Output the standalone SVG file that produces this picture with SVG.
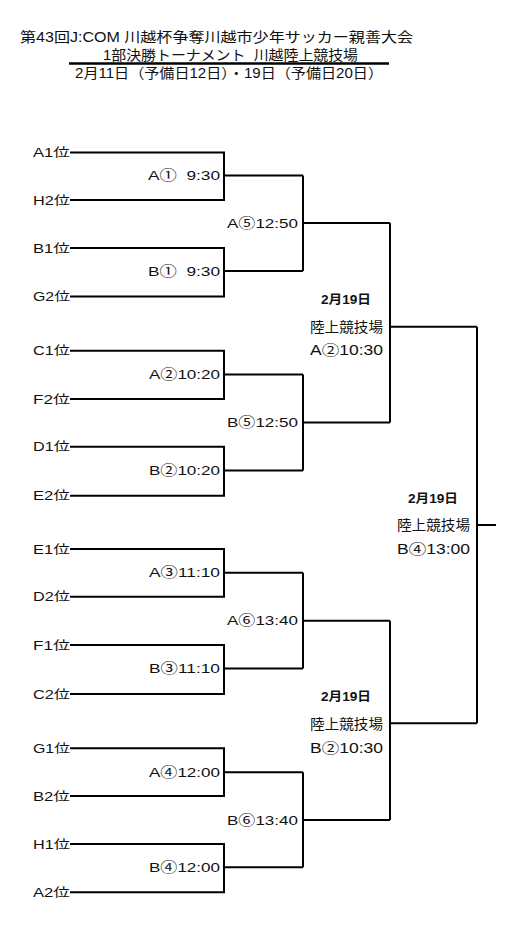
<svg xmlns="http://www.w3.org/2000/svg" width="518" height="927" viewBox="0 0 518 927">
<style>
text{font-family:"Liberation Sans","Noto Sans CJK JP",sans-serif;fill:#111;white-space:pre}
.h{font-size:14px}
.t{font-size:12.5px;text-anchor:end}
.m{font-size:13.5px;text-anchor:end}
.d{font-size:12px;font-weight:bold;text-anchor:middle}
.v{font-size:14px;text-anchor:middle}
.ln{fill:none;stroke:#000;stroke-width:2}
</style>
<rect width="518" height="927" fill="#fff"/>
<g id="title">
<text class="h" x="20" y="42" textLength="393" lengthAdjust="spacingAndGlyphs">第43回J:COM 川越杯争奪川越市少年サッカー親善大会</text>
<text class="h" x="103" y="60" textLength="255" lengthAdjust="spacingAndGlyphs" xml:space="preserve">1部決勝トーナメント  川越陸上競技場</text>
<line x1="69" y1="63.5" x2="389" y2="63.5" stroke="#000" stroke-width="2.5"/>
<text class="h" x="75" y="78" textLength="308" lengthAdjust="spacingAndGlyphs">2月11日（予備日12日）・19日（予備日20日）</text>
</g>
<g id="teams">
<text class="t" x="70" y="157" textLength="37" lengthAdjust="spacingAndGlyphs">A1位</text>
<text class="t" x="70" y="205" textLength="37" lengthAdjust="spacingAndGlyphs">H2位</text>
<text class="t" x="70" y="253" textLength="37" lengthAdjust="spacingAndGlyphs">B1位</text>
<text class="t" x="70" y="301" textLength="37" lengthAdjust="spacingAndGlyphs">G2位</text>
<text class="t" x="70" y="355" textLength="37" lengthAdjust="spacingAndGlyphs">C1位</text>
<text class="t" x="70" y="404" textLength="37" lengthAdjust="spacingAndGlyphs">F2位</text>
<text class="t" x="70" y="451" textLength="37" lengthAdjust="spacingAndGlyphs">D1位</text>
<text class="t" x="70" y="500" textLength="37" lengthAdjust="spacingAndGlyphs">E2位</text>
<text class="t" x="70" y="554" textLength="37" lengthAdjust="spacingAndGlyphs">E1位</text>
<text class="t" x="70" y="601" textLength="37" lengthAdjust="spacingAndGlyphs">D2位</text>
<text class="t" x="70" y="650" textLength="37" lengthAdjust="spacingAndGlyphs">F1位</text>
<text class="t" x="70" y="699" textLength="37" lengthAdjust="spacingAndGlyphs">C2位</text>
<text class="t" x="70" y="753" textLength="37" lengthAdjust="spacingAndGlyphs">G1位</text>
<text class="t" x="70" y="801" textLength="37" lengthAdjust="spacingAndGlyphs">B2位</text>
<text class="t" x="70" y="849" textLength="37" lengthAdjust="spacingAndGlyphs">H1位</text>
<text class="t" x="70" y="897" textLength="37" lengthAdjust="spacingAndGlyphs">A2位</text>
</g>
<g id="matches">
<text class="m" x="220" y="180" textLength="72" lengthAdjust="spacingAndGlyphs" xml:space="preserve">A①  9:30</text>
<text class="m" x="220" y="276" textLength="72" lengthAdjust="spacingAndGlyphs" xml:space="preserve">B①  9:30</text>
<text class="m" x="220" y="379" textLength="71" lengthAdjust="spacingAndGlyphs">A②10:20</text>
<text class="m" x="220" y="475" textLength="71" lengthAdjust="spacingAndGlyphs">B②10:20</text>
<text class="m" x="220" y="577" textLength="71" lengthAdjust="spacingAndGlyphs">A③11:10</text>
<text class="m" x="220" y="673" textLength="71" lengthAdjust="spacingAndGlyphs">B③11:10</text>
<text class="m" x="220" y="777" textLength="71" lengthAdjust="spacingAndGlyphs">A④12:00</text>
<text class="m" x="220" y="872" textLength="71" lengthAdjust="spacingAndGlyphs">B④12:00</text>
<text class="m" x="298" y="228" textLength="71" lengthAdjust="spacingAndGlyphs">A⑤12:50</text>
<text class="m" x="298" y="427" textLength="71" lengthAdjust="spacingAndGlyphs">B⑤12:50</text>
<text class="m" x="298" y="625" textLength="71" lengthAdjust="spacingAndGlyphs">A⑥13:40</text>
<text class="m" x="298" y="825" textLength="71" lengthAdjust="spacingAndGlyphs">B⑥13:40</text>
</g>
<g id="semi-a">
<text class="d" x="346" y="304" textLength="50" lengthAdjust="spacingAndGlyphs">2月19日</text>
<text class="v" x="346.5" y="332" textLength="73" lengthAdjust="spacingAndGlyphs">陸上競技場</text>
<text class="v" x="346.5" y="355" textLength="73" lengthAdjust="spacingAndGlyphs">A②10:30</text>
</g>
<g id="semi-b">
<text class="d" x="346" y="701" textLength="50" lengthAdjust="spacingAndGlyphs">2月19日</text>
<text class="v" x="346.5" y="729" textLength="73" lengthAdjust="spacingAndGlyphs">陸上競技場</text>
<text class="v" x="346.5" y="753" textLength="73" lengthAdjust="spacingAndGlyphs">B②10:30</text>
</g>
<g id="final">
<text class="d" x="433" y="503" textLength="50" lengthAdjust="spacingAndGlyphs">2月19日</text>
<text class="v" x="433.5" y="530" textLength="73" lengthAdjust="spacingAndGlyphs">陸上競技場</text>
<text class="v" x="433.5" y="554" textLength="73" lengthAdjust="spacingAndGlyphs">B④13:00</text>
</g>
<g id="connectors">
<path class="ln" d="M70 152.5H224V200H70M224 175.5H303M70 248H224V296.5H70M224 271H303M303 175.5V271M303 223H390"/>
<path class="ln" d="M70 350.7H224V399H70M224 374.5H303M70 446.7H224V495.7H70M224 470.5H303M303 374.5V470.5M303 422.5H390"/>
<path class="ln" d="M70 549H224V596.7H70M224 572.7H303M70 645H224V694H70M224 668.5H303M303 572.7V668.5M303 620.7H390"/>
<path class="ln" d="M70 748.3H224V796H70M224 772.3H303M70 844H224V892.3H70M224 867.3H303M303 772.3V867.3M303 820H390"/>
<path class="ln" d="M390 223V422.5M390 326.7H477M390 620.7V820M390 723.3H477M477 326.7V723.3M477 525H496"/>
</g>
</svg>
